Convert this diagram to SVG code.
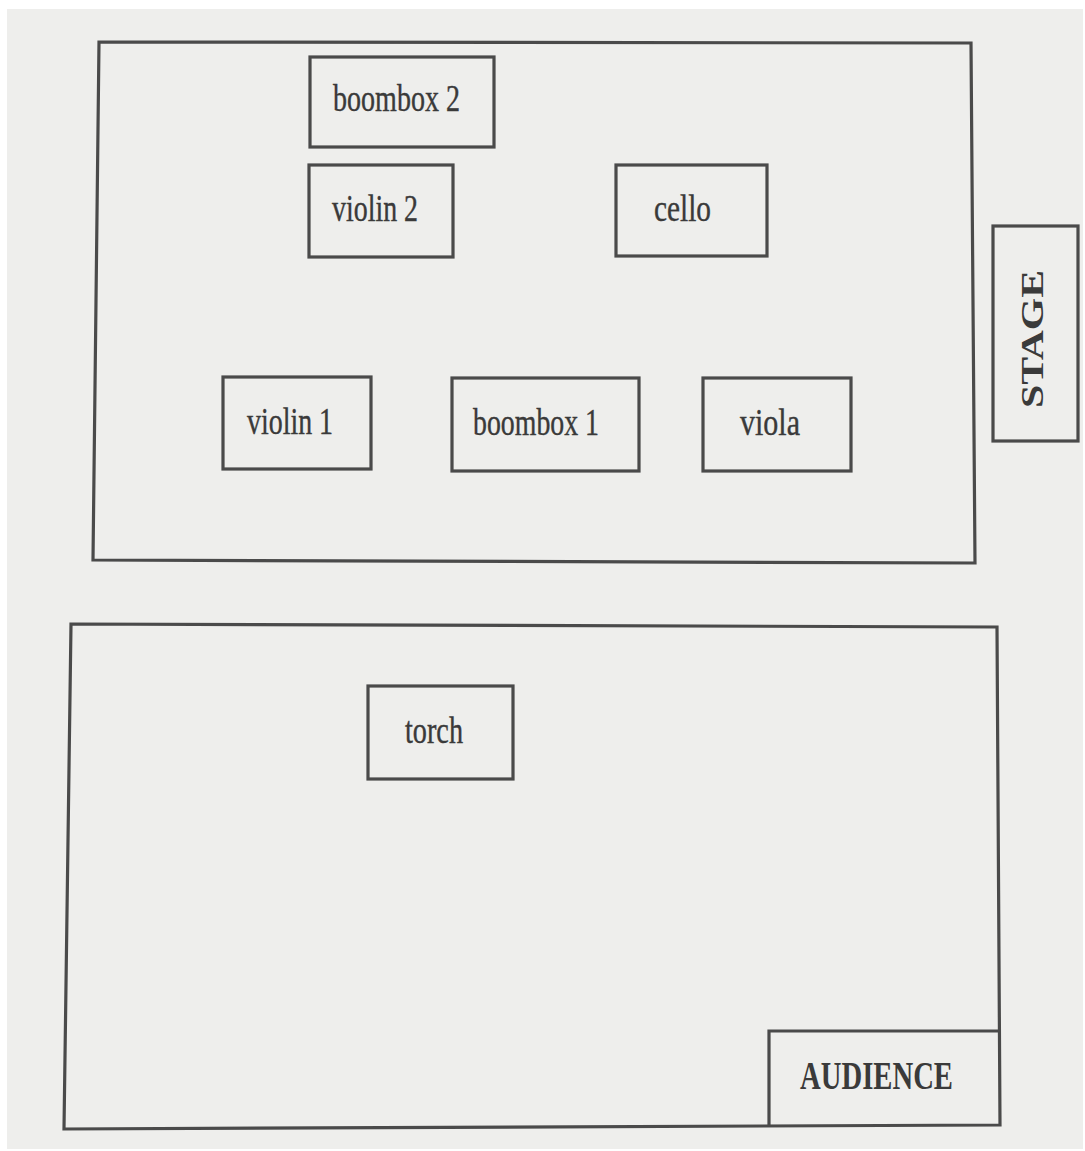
<svg xmlns="http://www.w3.org/2000/svg" width="1085" height="1151" viewBox="0 0 1085 1151">
<style>
.bg{fill:#eeeeec}
.outer{fill:none;stroke:#4a4a4a;stroke-width:3.2;stroke-linejoin:miter}
.box{fill:none;stroke:#4a4a4a;stroke-width:3.2}
.lbl{font-family:"Liberation Serif","Times New Roman",serif;font-size:37px;fill:#3a3a3a;stroke:#3a3a3a;stroke-width:0.4}
.bold{font-family:"Liberation Serif","Times New Roman",serif;font-weight:bold;fill:#3a3a3a}
</style>
<rect x="0" y="0" width="1085" height="1151" fill="#ffffff"/>
<rect class="bg" x="7" y="9" width="1076" height="1140"/>
<g id="stage-area">
<polygon class="outer" points="99,42 971,43 975,563 93,560"/>
</g>
<g id="audience-area">
<polygon class="outer" points="71,624 997,627 1000,1125 64,1129"/>
</g>
<g id="boombox2">
<rect class="box" x="310" y="57" width="184" height="90"/>
<text class="lbl" x="333" y="111" textLength="127" lengthAdjust="spacingAndGlyphs">boombox 2</text>
</g>
<g id="violin2">
<rect class="box" x="309" y="165" width="144" height="92"/>
<text class="lbl" x="332" y="221" textLength="86" lengthAdjust="spacingAndGlyphs">violin 2</text>
</g>
<g id="cello">
<rect class="box" x="616" y="165" width="151" height="91"/>
<text class="lbl" x="654" y="221" textLength="57" lengthAdjust="spacingAndGlyphs">cello</text>
</g>
<g id="violin1">
<rect class="box" x="223" y="377" width="148" height="92"/>
<text class="lbl" x="247" y="434" textLength="86" lengthAdjust="spacingAndGlyphs">violin 1</text>
</g>
<g id="boombox1">
<rect class="box" x="452" y="378" width="187" height="93"/>
<text class="lbl" x="473" y="435" textLength="126" lengthAdjust="spacingAndGlyphs">boombox 1</text>
</g>
<g id="viola">
<rect class="box" x="703" y="378" width="148" height="93"/>
<text class="lbl" x="740" y="435" textLength="60" lengthAdjust="spacingAndGlyphs">viola</text>
</g>
<g id="stage">
<rect class="box" x="993" y="226" width="85" height="215"/>
<text class="bold" font-size="31" transform="translate(1043,408) rotate(-90)" x="0" y="0" textLength="138" lengthAdjust="spacingAndGlyphs">STAGE</text>
</g>
<g id="torch">
<rect class="box" x="368" y="686" width="145" height="93"/>
<text class="lbl" x="405" y="743" textLength="58" lengthAdjust="spacingAndGlyphs">torch</text>
</g>
<g id="audience">
<polyline class="box" points="769,1125 769,1031 1000,1031"/>
<text class="bold" font-size="40" x="800" y="1089" textLength="153" lengthAdjust="spacingAndGlyphs">AUDIENCE</text>
</g>
<g id="connectors"/>
</svg>
